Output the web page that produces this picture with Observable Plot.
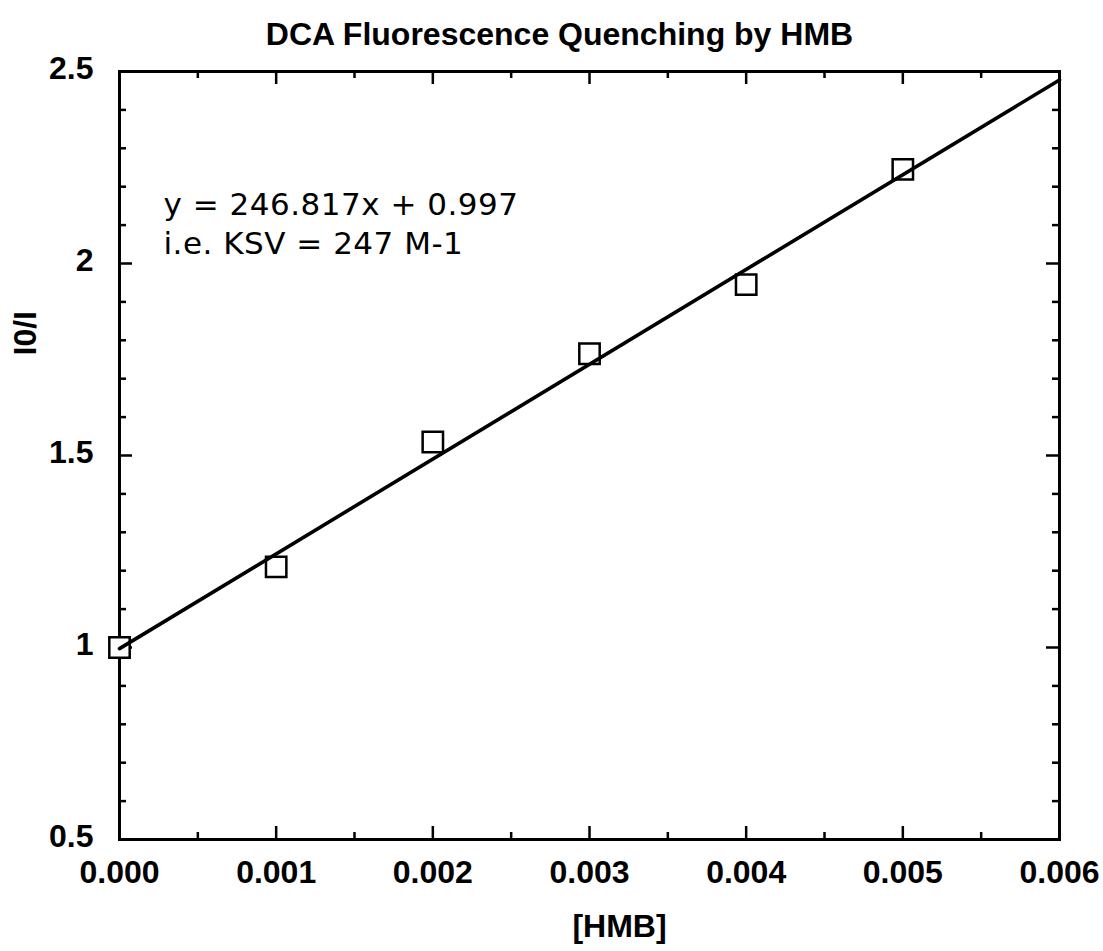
<!DOCTYPE html>
<html><head><meta charset="utf-8">
<script src="https://cdn.jsdelivr.net/npm/d3@7"></script>
<script src="https://cdn.jsdelivr.net/npm/@observablehq/plot@0.6"></script>
<style>body{margin:0;background:#fff}</style>
</head><body><div id="chart"></div>
<script>
const hmb = [0, 0.001, 0.002, 0.003, 0.004, 0.005];
const ratio = [1.0, 1.21, 1.535, 1.765, 1.945, 2.245];
const fitX = [0, 0.006];
const fitY = [0.997, 2.478];
const xMajorTicks = [0, 0.001, 0.002, 0.003, 0.004, 0.005, 0.006];
const xMinorTicks = [0.0005, 0.0015, 0.0025, 0.0035, 0.0045, 0.0055];
const yMajorTicks = [0.5, 1, 1.5, 2, 2.5];
const yMinorTicks = [0.6, 0.7, 0.8, 0.9, 1.1, 1.2, 1.3, 1.4, 1.6, 1.7, 1.8, 1.9, 2.1, 2.2, 2.3, 2.4];
const title = "DCA Fluorescence Quenching by HMB";
const xLabel = "[HMB]";
const yLabel = "I0/I";
const annotation = ["y = 246.817x + 0.997", "i.e. KSV = 247 M-1"];

const points = hmb.map((x, i) => ({x, y: ratio[i]}));
const fit = fitX.map((x, i) => ({x, y: fitY[i]}));

const W = 1103, H = 951, mL = 119, mR = 44, mT = 71, mB = 112;
const plotH = H - mT - mB, plotW = W - mL - mR;
const majorLen = 13, minorLen = 7, tickW = 2.5;
const bold = "Liberation Sans, Arial, Helvetica, sans-serif";

const chart = Plot.plot({
  width: W, height: H,
  marginLeft: mL, marginRight: mR, marginTop: mT, marginBottom: mB,
  x: {domain: [0, 0.006]},
  y: {domain: [0.5, 2.5]},
  style: {fontFamily: bold, fontSize: "32px", fontWeight: "bold", background: "white", color: "black"},
  marks: [
    Plot.axisX(xMajorTicks, {tickSize: 0, tickPadding: 21, tickFormat: d3.format(".3f"), label: null, fontSize: 32, fontWeight: "bold"}),
    Plot.axisY(yMajorTicks, {tickSize: 0, tickPadding: 26, tickFormat: d => String(d), label: null, fontSize: 32, fontWeight: "bold", dy: -3}),
    // bottom ticks
    Plot.ruleX(xMajorTicks, {x: d => d, insetTop: plotH - majorLen, strokeWidth: tickW}),
    Plot.ruleX(xMinorTicks, {x: d => d, insetTop: plotH - minorLen, strokeWidth: tickW}),
    // top ticks
    Plot.ruleX(xMajorTicks, {x: d => d, insetBottom: plotH - majorLen, strokeWidth: tickW}),
    Plot.ruleX(xMinorTicks, {x: d => d, insetBottom: plotH - minorLen, strokeWidth: tickW}),
    // left ticks
    Plot.ruleY(yMajorTicks, {y: d => d, insetRight: plotW - majorLen, strokeWidth: tickW}),
    Plot.ruleY(yMinorTicks, {y: d => d, insetRight: plotW - minorLen, strokeWidth: tickW}),
    // right ticks
    Plot.ruleY(yMajorTicks, {y: d => d, insetLeft: plotW - majorLen, strokeWidth: tickW}),
    Plot.ruleY(yMinorTicks, {y: d => d, insetLeft: plotW - minorLen, strokeWidth: tickW}),
    Plot.frame({stroke: "black", strokeWidth: 3}),
    Plot.dot(points, {x: "x", y: "y", symbol: "square", r: 11.5, stroke: "black", strokeWidth: 2.5, fill: "white"}),
    Plot.line(fit, {x: "x", y: "y", stroke: "black", strokeWidth: 3.6}),
    Plot.text([title], {text: d => d, frameAnchor: "top", dx: -30, dy: -49, fontSize: 32, fontWeight: "bold"}),
    Plot.text([xLabel], {text: d => d, frameAnchor: "bottom", dx: 30, dy: 97, fontSize: 32, fontWeight: "bold"}),
    Plot.text([yLabel], {text: d => d, frameAnchor: "left", dx: -94, dy: -100, rotate: -90, fontSize: 32, fontWeight: "bold"}),
    Plot.text([annotation.join("\n")], {text: d => d, frameAnchor: "top-left", textAnchor: "start", lineAnchor: "top",
      dx: 44, dy: 116, fontSize: 31, fontWeight: "normal", fontFamily: "DejaVu Sans, Verdana, sans-serif", lineHeight: 1.26})
  ]
});
document.getElementById("chart").appendChild(chart);
d3.select(chart).selectAll("text").filter(function() { return this.textContent.includes("KSV"); })
  .style("letter-spacing", "0.5px");
</script>
</body></html>
